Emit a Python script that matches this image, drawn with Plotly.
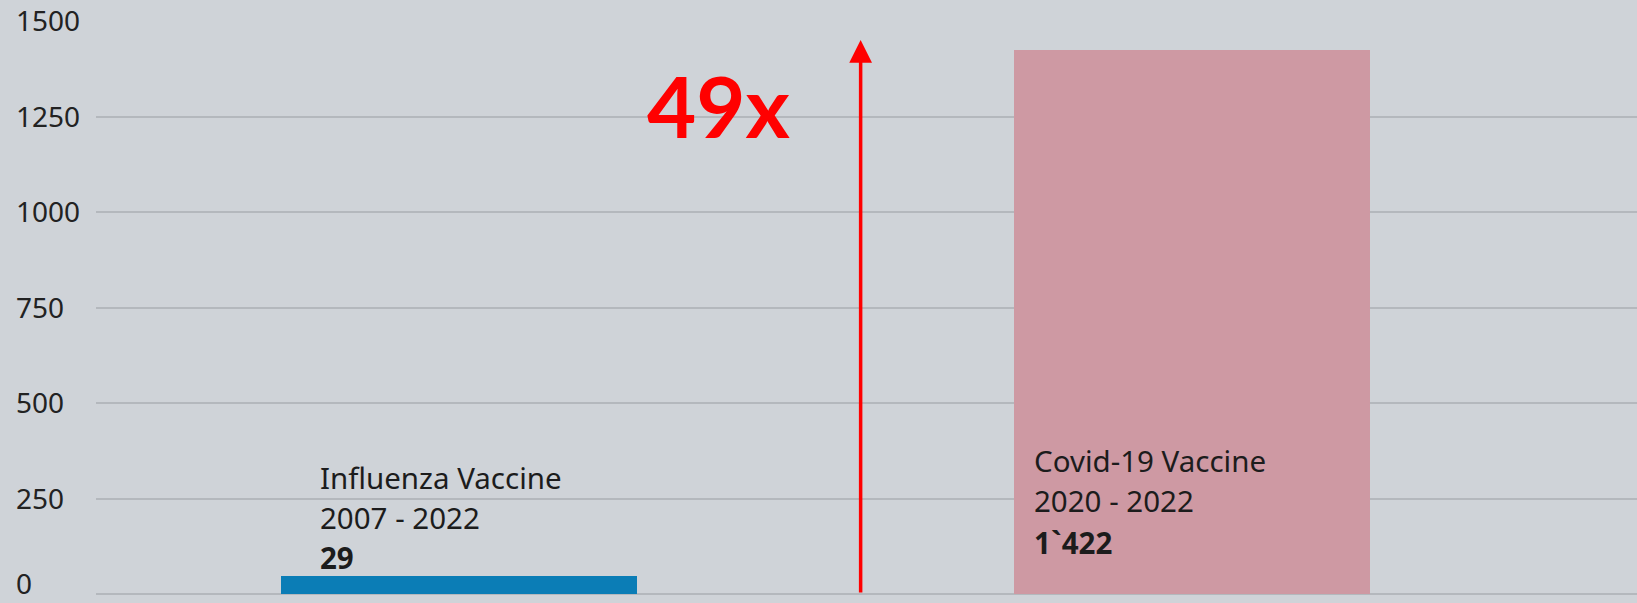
import plotly.graph_objects as go

# ---- data ----
vaccines = ["Influenza Vaccine", "Covid-19 Vaccine"]
periods = ["2007 - 2022", "2020 - 2022"]
reports = [29, 1422]                 # printed values
bar_heights = [47, 1425]             # bar heights
value_labels = ["29", "1`422"]
bar_colors = ["#0b7db6", "#ce99a3"]
y_ticks = [0, 250, 500, 750, 1000, 1250, 1500]
arrow_top = 1450

positions = [0, 1]
bar_width = 0.486

fig = go.Figure()
fig.add_trace(go.Bar(
    x=positions, y=bar_heights, width=bar_width,
    marker=dict(color=bar_colors, line=dict(width=0)),
    hoverinfo="skip", showlegend=False,
))

font_family = "'Noto Sans', Lato, sans-serif"
text_color = "#1c1c1c"

annotations = []
shifts = [(37, [117, 77, 37]), (18, [134, 94, 52])]
for i, (xs, ys) in enumerate(shifts):
    lines = [vaccines[i], periods[i], "<b>" + value_labels[i] + "</b>"]
    for line, yshift in zip(lines, ys):
        annotations.append(dict(
            x=positions[i] - bar_width / 2, y=0, xref="x", yref="y",
            xanchor="left", yanchor="middle", xshift=xs, yshift=yshift,
            text=line, showarrow=False,
            font=dict(family=font_family, size=29.5, color=text_color),
        ))

# y tick labels, left-aligned as in the reference
for v in y_ticks:
    annotations.append(dict(
        x=0, y=v, xref="paper", yref="y",
        xanchor="left", yanchor="bottom" if v == 0 else "middle",
        xshift=-81, yshift=-9 if v == 0 else 1,
        text=str(v), showarrow=False, borderpad=0,
        font=dict(family=font_family, size=28, color="#222222"),
    ))

# ratio arrow
arrow_x = 0.548
annotations.append(dict(
    x=arrow_x, y=arrow_top, ax=arrow_x, ay=0,
    xref="x", yref="y", axref="x", ayref="y",
    showarrow=True, arrowhead=2, arrowsize=1.3, arrowwidth=3.5,
    arrowcolor="#ff0000", text="",
))
annotations.append(dict(
    x=arrow_x, y=arrow_top, xref="x", yref="y",
    xanchor="right", yanchor="middle", xshift=-68, yshift=-65,
    text="<b>%dx</b>" % round(reports[1] / reports[0]), showarrow=False,
    font=dict(family="Lato, 'Open Sans', sans-serif", size=85, color="#ff0000"),
))

fig.update_layout(
    width=1637, height=603,
    margin=dict(l=96, r=0, t=21, b=9, autoexpand=False),
    paper_bgcolor="#cfd3d8", plot_bgcolor="#cfd3d8",
    annotations=annotations,
    bargap=0,
)
fig.update_xaxes(range=[-0.495, 1.607], showticklabels=False, showgrid=False,
                 zeroline=False, showline=False, fixedrange=True, automargin=False)
fig.update_yaxes(range=[0, 1500], tickvals=y_ticks, showticklabels=False,
                 showgrid=True, gridcolor="#b4b8bd", gridwidth=2,
                 zeroline=True, zerolinecolor="#b4b8bd", zerolinewidth=2,
                 showline=False, ticks="", automargin=False,
                 fixedrange=True)

fig.write_html(
    "out.html",
    config={"displayModeBar": False},
    post_script="document.body.style.margin='0';document.body.style.background='#cfd3d8';",
)
